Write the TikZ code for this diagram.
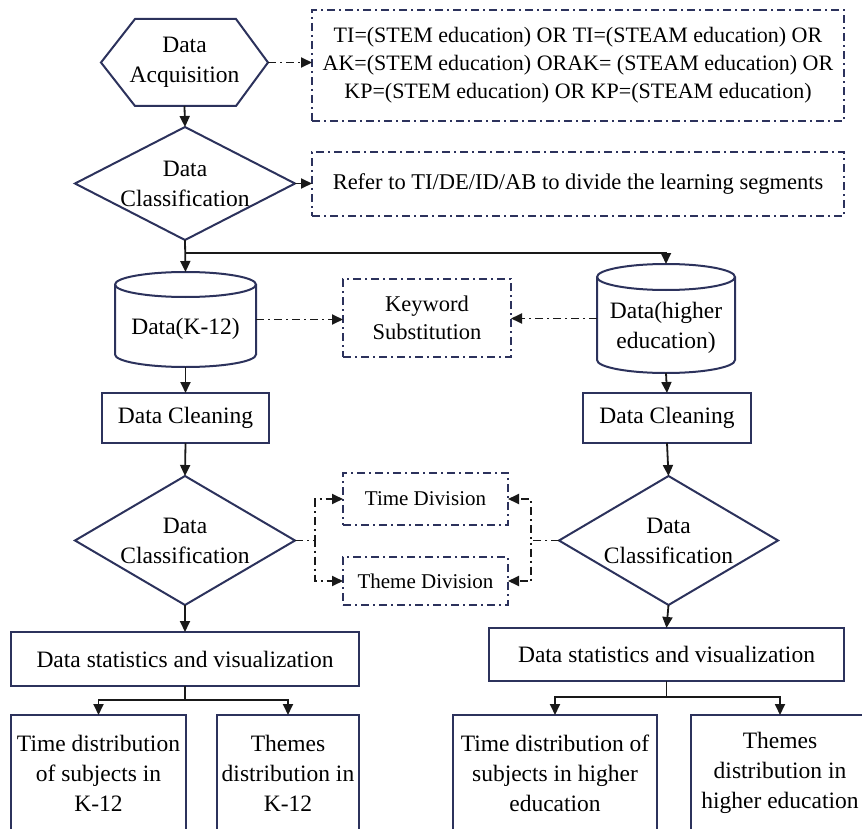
\documentclass[tikz,border=0pt]{standalone}
\usepackage{fontspec}
\setmainfont{Liberation Serif}
\newfontfamily\tms{Liberation Serif}
\usetikzlibrary{arrows.meta,shapes.geometric,calc}
\definecolor{nv}{RGB}{44,50,92}
\definecolor{ln}{RGB}{25,25,25}
\tikzset{
 shp/.style={draw=nv,line width=2pt},
 box/.style={shp,rectangle,inner sep=0pt,outer sep=0pt,align=center,font=\tms\fontsize{23.5}{30}\selectfont},
 dbox/.style={box,dash pattern=on 8pt off 4pt on 2pt off 4pt},
 dia/.style={shp,diamond,inner sep=0pt,outer sep=0pt},
 txt/.style={inner sep=0pt,align=center,font=\tms\fontsize{23.5}{30}\selectfont},
 hold/.style={rectangle,inner sep=0pt,outer sep=0pt},
 arr/.style={draw=ln,line width=1.8pt,-{Triangle[length=11pt,width=10pt]}},
 darr/.style={arr,dash pattern=on 8pt off 4pt on 2pt off 4pt},
}
\newcommand\cylout[3]{%
 \draw[shp] ($(#1.north west)+(0,#3)$) -- ($(#1.south west)+(0,-#3)$)
   arc[start angle=180,end angle=0,x radius=#2,y radius=#3]
   -- ($(#1.north east)+(0,#3)$)
   arc[start angle=0,end angle=-180,x radius=#2,y radius=#3] -- cycle;
 \draw[shp] ($(#1.north west)+(0,#3)$) arc[start angle=180,end angle=0,x radius=#2,y radius=#3];}
\begin{document}
\begin{tikzpicture}[x=1pt,y=-1pt]
\useasboundingbox (0,0) rectangle (862,829);
\clip (0,0) rectangle (862,829);
% hexagon
\node[hold,minimum width=167pt,minimum height=87pt] (acq) at (184.5,62.5) {};
\draw[shp] (acq.west) -- ($(acq.north west)+(34,0)$) -- ($(acq.north east)+(-32,0)$) -- (acq.east)
  -- ($(acq.south east)+(-32,0)$) -- ($(acq.south west)+(34,0)$) -- cycle;
\node[txt] (acqt) at (acq) {Data\\Acquisition};
% query box
\node[dbox,minimum width=532pt,minimum height=111pt,font=\tms\fontsize{22}{28}\selectfont] (q1) at (578,65.5)
 {TI=(STEM education) OR TI=(STEAM education) OR\\AK=(STEM education) ORAK= (STEAM education) OR\\KP=(STEM education) OR KP=(STEAM education)};
% classification 1
\node[dia,minimum width=220pt,minimum height=113pt] (cls1) at (185,183.5) {};
\node[txt] (cls1t) at (cls1) {Data\\Classification};
\node[dbox,minimum width=532pt,minimum height=64pt,font=\tms\fontsize{22.5}{28}\selectfont] (q2) at (578,184)
 {Refer to TI/DE/ID/AB to divide the learning segments};
% cylinders
\node[hold,minimum width=141pt,minimum height=95pt] (k12) at (185.5,319.5) {};
\cylout{k12}{70.5}{12.5}
\node[txt] (k12t) at (185.5,329) {Data(K-12)};
\node[hold,minimum width=138pt,minimum height=109pt] (hed) at (666,318.5) {};
\cylout{hed}{69}{13}
\node[txt] (hedt) at (666,327.5) {Data(higher\\education)};
% keyword
\node[dbox,minimum width=168pt,minimum height=78pt,font=\tms\fontsize{22.5}{28}\selectfont] (kw) at (427,318) {Keyword\\Substitution};
% cleaning
\node[box,minimum width=167pt,minimum height=50pt] (dc1) at (185.5,418) {Data Cleaning};
\node[box,minimum width=168pt,minimum height=50pt] (dc2) at (667,418) {Data Cleaning};
% classification 2,3
\node[dia,minimum width=220pt,minimum height=129pt] (cls2) at (185,540.5) {};
\node[txt] (cls2t) at (cls2) {Data\\Classification};
\node[dia,minimum width=219pt,minimum height=129pt] (cls3) at (668.5,540.5) {};
\node[txt] (cls3t) at (cls3) {Data\\Classification};
\node[dbox,minimum width=165pt,minimum height=52pt,font=\tms\fontsize{21}{28}\selectfont] (td) at (425.5,499) {Time Division};
\node[dbox,minimum width=165pt,minimum height=48pt,font=\tms\fontsize{21}{28}\selectfont] (thd) at (425.5,581) {Theme Division};
% statistics
\node[box,minimum width=348pt,minimum height=54pt] (dsv1) at (185,659) {Data statistics and visualization};
\node[box,minimum width=355pt,minimum height=53pt] (dsv2) at (666.5,654.5) {Data statistics and visualization};
% bottom boxes
\node[box,minimum width=175pt,minimum height=116pt] (ba) at (98.5,773) {Time distribution\\of subjects in\\K-12};
\node[box,minimum width=142pt,minimum height=116pt] (bb) at (288,773) {Themes\\distribution in\\K-12};
\node[box,minimum width=204pt,minimum height=116pt] (bc) at (555,773) {Time distribution of\\subjects in higher\\education};
\node[box,minimum width=178pt,minimum height=116pt] (bd) at (780,773) {Themes\\distribution in\\higher education};
% connectors
\draw[darr] (acq.east) -- (acq.east -| q1.west);
\draw[arr] (acq.south) -- (cls1.north);
\draw[arr] (cls1.east) -- (cls1.east -| q2.west);
\draw[arr] (cls1.south) -- (k12.north);
\coordinate (sp) at ($(cls1.south)+(0,13)$);
\draw[arr] (sp) -| (hed.north);
\draw[darr] (k12.east) -- (k12.east -| kw.west);
\draw[darr] (hed.west) -- (hed.west -| kw.east);
\draw[arr] (k12.south) -- (dc1.north);
\draw[arr] (hed.south) -- (dc2.north);
\draw[arr] (dc1.south) -- (cls2.north);
\draw[arr] (dc2.south) -- (cls3.north);
\draw[darr] (cls2.east) -- ++(20,0) |- (td.west);
\draw[darr] (cls2.east) -- ++(20,0) |- (thd.west);
\draw[darr] (cls3.west) -- ++(-28,0) |- (td.east);
\draw[darr] (cls3.west) -- ++(-28,0) |- (thd.east);
\draw[arr] (cls2.south) -- (dsv1.north);
\draw[arr] (cls3.south) -- (dsv2.north);
\coordinate (b1) at ($(dsv1.south)+(0,14)$);
\draw[arr] (dsv1.south) -- (b1) -| (ba.north);
\draw[arr] (b1) -| (bb.north);
\coordinate (b2) at ($(dsv2.south)+(0,16)$);
\draw[arr] (dsv2.south) -- (b2) -| (bc.north);
\draw[arr] (b2) -| (bd.north);
\end{tikzpicture}
\end{document}
